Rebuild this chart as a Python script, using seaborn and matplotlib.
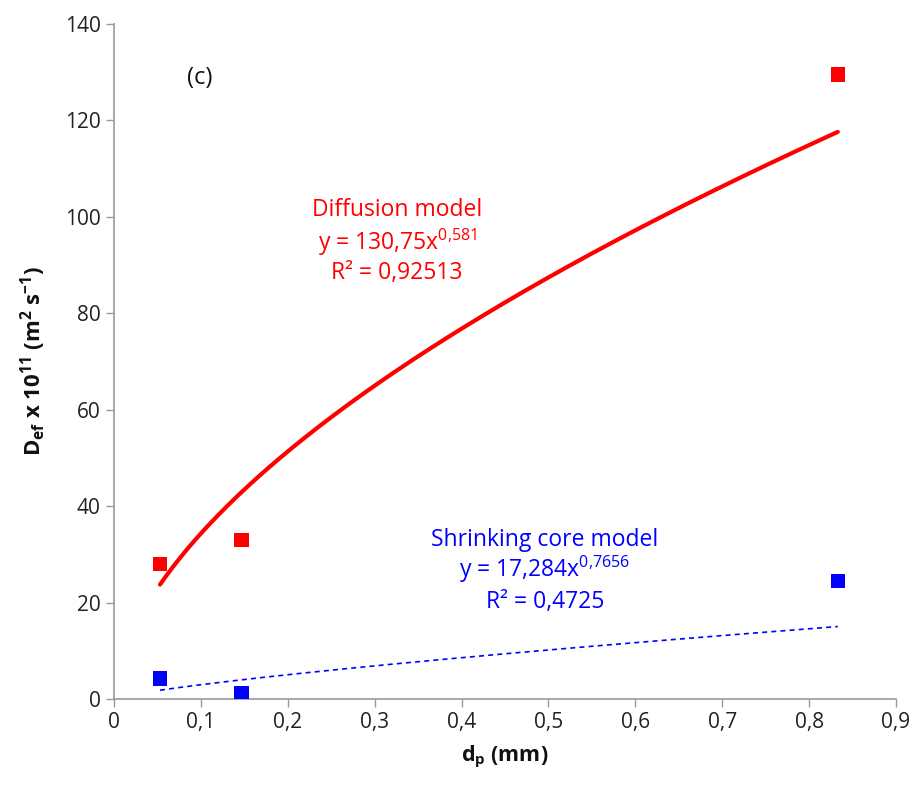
import numpy as np
import pandas as pd
import matplotlib
matplotlib.use("Agg")
import matplotlib.pyplot as plt
import seaborn as sns

# data
dp = [0.053, 0.147, 0.833]
diffusion = [28.0, 33.0, 129.5]
shrinking = [4.3, 1.2, 24.5]
diff_coef, diff_exp = 130.75, 0.581
shr_coef, shr_exp = 17.284, 0.7656
x_ticks = [0, 0.1, 0.2, 0.3, 0.4, 0.5, 0.6, 0.7, 0.8, 0.9]
x_tick_labels = ["0", "0,1", "0,2", "0,3", "0,4", "0,5", "0,6", "0,7", "0,8", "0,9"]
y_ticks = [0, 20, 40, 60, 80, 100, 120, 140]

sns.set_theme(style="white")
plt.rcParams['font.family'] = ['Open Sans', 'DejaVu Sans']
plt.rcParams['mathtext.fontset'] = 'custom'
plt.rcParams['mathtext.rm'] = 'Open Sans'
plt.rcParams['mathtext.bf'] = 'Open Sans:bold'
plt.rcParams['mathtext.it'] = 'Open Sans:italic'

fig = plt.figure(figsize=(9.19, 7.92), dpi=100)
ax = fig.add_axes([0.124, 0.1174, 0.851, 0.8526])

df = pd.DataFrame({"dp": dp, "Diffusion": diffusion, "Shrinking": shrinking})

xs = np.linspace(min(dp), max(dp), 200)
fit = pd.DataFrame({"x": xs,
                    "diff": diff_coef * xs ** diff_exp,
                    "shr": shr_coef * xs ** shr_exp})
sns.lineplot(data=fit, x="x", y="diff", ax=ax, color="#ff0000", linewidth=3.0)
sns.lineplot(data=fit, x="x", y="shr", ax=ax, color="#0000ff", linewidth=1.2,
             linestyle=(0, (3, 2.5)))
sns.scatterplot(data=df, x="dp", y="Diffusion", ax=ax, marker="s", s=110,
                color="#ff0000", edgecolor="none", zorder=5)
sns.scatterplot(data=df, x="dp", y="Shrinking", ax=ax, marker="s", s=110,
                color="#0000ff", edgecolor="none", zorder=5)

ax.set_xlim(0, 0.9)
ax.set_ylim(0, 140)
ax.set_xticks(x_ticks)
ax.set_xticklabels(x_tick_labels)
ax.set_yticks(y_ticks)
ax.tick_params(axis='both', labelsize=15, colors="#222222", length=6, width=1,
               direction='out', bottom=True, left=True)
ax.tick_params(axis='both', color="#999999")
for s in ["top", "right"]:
    ax.spines[s].set_visible(False)
for s in ["left", "bottom"]:
    ax.spines[s].set_color("#999999")
    ax.spines[s].set_linewidth(1.2)

ax.set_xlabel(r"$\mathbf{d_p}$ (mm)", fontsize=15.5, fontweight="bold", color="#111111", labelpad=8)
ax.set_ylabel(r"$\mathbf{D_{ef}}$ x 10$^{\mathbf{11}}$ (m$^{\mathbf{2}}$ s$^{\mathbf{-1}}$)",
              fontsize=16, fontweight="bold", color="#111111", labelpad=12)

ax.text(0.099, 128.8, "(c)", fontsize=17, ha="center", va="center", color="#111111")
red = "#ff0000"
blue = "#0000ff"
fs = 16.5
ax.text(0.326, 101.4, "Diffusion model", fontsize=fs, ha="center", va="center", color=red)
ax.text(0.326, 94.6, r"y = 130,75x$^{0{,}581}$", fontsize=fs, ha="center", va="center", color=red)
ax.text(0.326, 88.4, "R² = 0,92513", fontsize=fs, ha="center", va="center", color=red)
ax.text(0.496, 33.0, "Shrinking core model", fontsize=fs, ha="center", va="center", color=blue)
ax.text(0.496, 26.8, r"y = 17,284x$^{0{,}7656}$", fontsize=fs, ha="center", va="center", color=blue)
ax.text(0.496, 20.1, "R² = 0,4725", fontsize=fs, ha="center", va="center", color=blue)

fig.savefig("out.png", dpi=100)
